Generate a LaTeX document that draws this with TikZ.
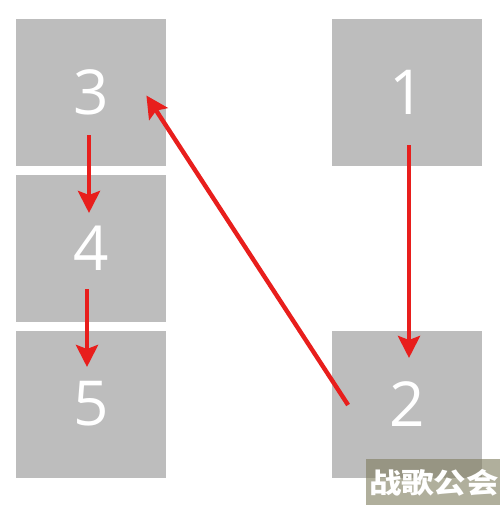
\documentclass[tikz,border=0pt]{standalone}
\usepackage{fontspec}
\setmainfont{Open Sans}
\newfontfamily\cjkfont{Noto Sans CJK SC}
\usetikzlibrary{arrows.meta}

\definecolor{boxgray}{RGB}{189,189,189}
\definecolor{arrowred}{RGB}{232,30,28}
\definecolor{markolive}{RGB}{128,126,96}

\begin{document}
\begin{tikzpicture}[x=0.5pt, y=-0.5pt,
rectStep/.style={rectangle, fill=boxgray, minimum width=75pt, minimum height=73.5pt, inner sep=0pt, text=white, font=\fontsize{31}{31}\selectfont},
arrowStep/.style={color=arrowred, line width=2.2pt, -{Stealth[width=11pt,length=11pt,inset=2pt]}},
rectMark/.style={rectangle, fill=markolive, fill opacity=0.62, text opacity=1, text=white, minimum width=67pt, minimum height=23pt, inner sep=0pt}]

\useasboundingbox (0,0) rectangle (500,505);

\node[rectStep] (one) at (407.5, 92.5) {1};
\node[rectStep] (two) at (407.5, 404) {2};
\node[rectStep] (three) at (91, 92.5) {3};
\node[rectStep] (four) at (91, 248.5) {4};
\node[rectStep] (five) at (91, 404) {5};

\node[rectMark] (mark) at (433, 482) {};
\node[text=white, font=\cjkfont\bfseries\fontsize{14}{14}\selectfont, xscale=1.16, inner sep=0pt] (markText) at (434, 482.5) {战歌公会};

 \path[arrowStep] ([xshift=0.75pt, yshift=-26.25pt]one.center) edge ([xshift=0.75pt, yshift=23pt]two.center)
			([xshift=-1pt, yshift=-21.25pt]three.center) edge ([xshift=-1pt, yshift=17.75pt]four.center)
			([xshift=-2pt, yshift=-20.25pt]four.center) edge ([xshift=-2pt, yshift=18.5pt]five.center);
 \draw[arrowStep] ([xshift=8pt, yshift=-0.5pt]two.west) -- ([xshift=-10pt, yshift=-1.5pt]three.east);

\end{tikzpicture}
\end{document}
